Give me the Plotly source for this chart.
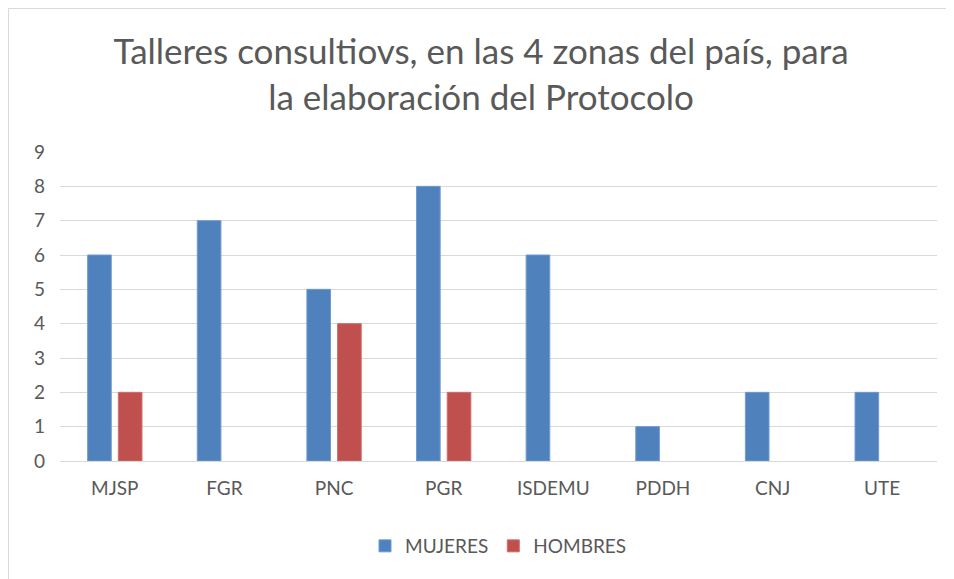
import plotly.graph_objects as go

categorias = ['MJSP', 'FGR', 'PNC', 'PGR', 'ISDEMU', 'PDDH', 'CNJ', 'UTE']
mujeres = [6, 7, 5, 8, 6, 1, 2, 2]
hombres = [2, None, 4, 2, None, None, None, None]

gris = '#595959'
fuente = 'Lato, Carlito, Calibri, sans-serif'

# la página tiene 8px de margen en el body
W, H = 946, 571
ml, mr, mt, mb = 52, 17, 144, 118
pw, ph = W - ml - mr, H - mt - mb

fig = go.Figure()
fig.add_trace(go.Bar(x=categorias, y=mujeres, name='MUJERES',
                     marker=dict(color='#4f81bd', line=dict(color='#6f9bd1', width=1))))
fig.add_trace(go.Bar(x=categorias, y=hombres, name='HOMBRES',
                     marker=dict(color='#c0504d', line=dict(color='#cf6e6b', width=1))))

fig.update_layout(
    width=W, height=H,
    margin=dict(l=ml, r=mr, t=mt, b=mb),
    paper_bgcolor='white', plot_bgcolor='white',
    barmode='group', bargap=0.44, bargroupgap=0.23,
    title=dict(text='Talleres consultiovs, en las 4 zonas del país, para<br>la elaboración del Protocolo',
               x=0.5, xanchor='center', y=1 - 56 / H, yanchor='top',
               font=dict(family=fuente, size=35, color=gris)),
    font=dict(family=fuente, size=19, color=gris),
    showlegend=True,
    legend=dict(orientation='h', x=0.5, xanchor='center', y=-(538 - (H - mb)) / ph,
                yanchor='middle', font=dict(size=19, color=gris), traceorder='normal'),
    xaxis=dict(showline=True, linecolor='#d9d9d9', linewidth=1, ticks='',
               tickfont=dict(size=19, color=gris), ticklabelstandoff=10),
    yaxis=dict(range=[0, 9], dtick=1, showgrid=True, gridcolor='#d9d9d9', gridwidth=1,
               zeroline=False, ticks='', tickfont=dict(size=19, color=gris),
               ticklabelstandoff=14),
)

# borde del área del gráfico (solo izquierda y arriba, como en la imagen)
x_izq = -(ml - 0.5) / pw
y_arr = 1 + (mt - 0.5) / ph
fig.add_shape(type='path', xref='paper', yref='paper',
              path=f'M {x_izq} {-(mb + 10) / ph} L {x_izq} {y_arr} L {1 + (mr + 10) / pw} {y_arr}',
              line=dict(color='#d9d9d9', width=1))

fig.write_html('out.html')
